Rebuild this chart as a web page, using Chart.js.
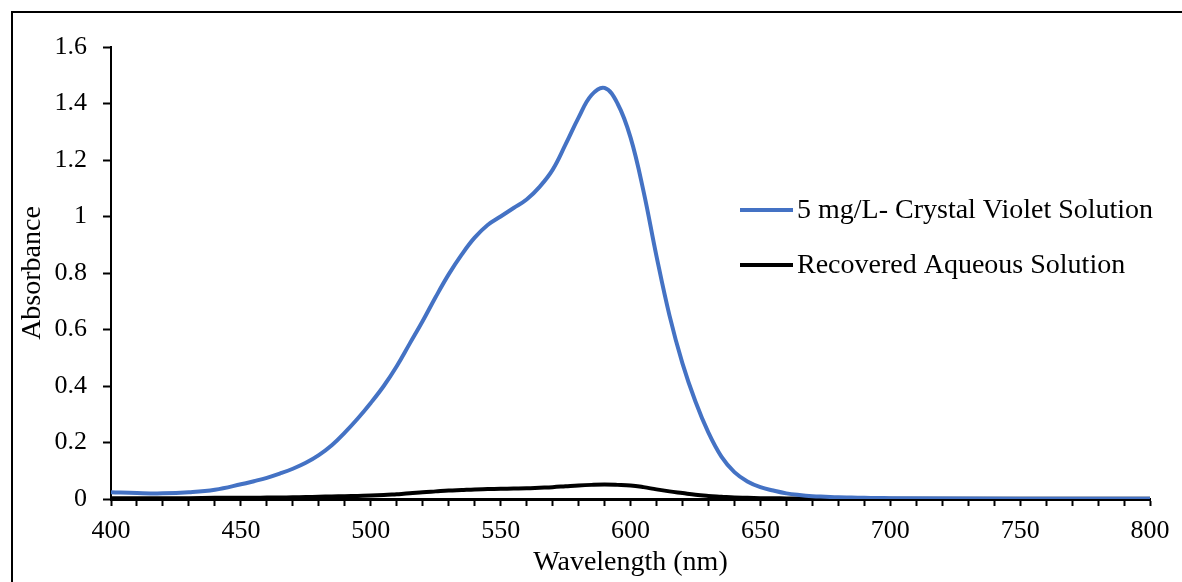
<!DOCTYPE html>
<html>
<head>
<meta charset="utf-8">
<script src="https://cdn.jsdelivr.net/npm/chart.js@4.4.1/dist/chart.umd.min.js"></script>
<style>
  html, body { margin: 0; padding: 0; background: #fff; overflow: hidden; }
  #wrap { position: relative; width: 1182px; height: 582px; }
  #frame { position: absolute; left: 11px; top: 11px; width: 3000px; height: 3000px;
           border-left: 2px solid #000; border-top: 2px solid #000; }
  canvas { position: absolute; left: 0; top: 0; }
</style>
</head>
<body>
<div id="wrap">
  <div id="frame"></div>
  <canvas id="grafico" width="1182" height="582"></canvas>
</div>
<script>
// comprimentos de onda (nm)
var wavelengths = [400, 410, 420, 430, 440,
  450, 455, 460, 465, 470, 475, 480, 485, 490, 495,
  500, 505, 510, 515, 520, 525, 530, 535, 540, 545,
  550, 555, 560, 565, 570, 575, 580, 585, 590, 595,
  600, 605, 610, 615, 620, 625, 630, 635, 640, 645,
  650, 655, 660, 665, 670, 675, 680, 685, 690, 695,
  700, 750, 800];
// 5 mg/L cristal violeta
var crystalViolet = [0.024, 0.021, 0.020, 0.024, 0.033,
  0.052, 0.063, 0.075, 0.09, 0.107, 0.128, 0.155, 0.19, 0.235, 0.285,
  0.34, 0.40, 0.47, 0.55, 0.63, 0.715, 0.795, 0.865, 0.925, 0.97,
  1.00, 1.03, 1.06, 1.105, 1.165, 1.255, 1.35, 1.43, 1.455, 1.40,
  1.28, 1.09, 0.86, 0.65, 0.48, 0.345, 0.235, 0.15, 0.095, 0.062,
  0.042, 0.03, 0.02, 0.014, 0.010, 0.008, 0.006, 0.005, 0.004, 0.0035,
  0.003, 0.001, 0.0005];
// solução aquosa recuperada
var recovered = [0.003, 0.003, 0.003, 0.003, 0.004,
  0.004, 0.0045, 0.005, 0.0055, 0.006, 0.007, 0.008, 0.009, 0.010, 0.011,
  0.012, 0.014, 0.017, 0.020, 0.024, 0.027, 0.030, 0.032, 0.034, 0.035,
  0.036, 0.037, 0.038, 0.040, 0.042, 0.045, 0.048, 0.050, 0.051, 0.050,
  0.048, 0.042, 0.034, 0.027, 0.021, 0.015, 0.011, 0.008, 0.005, 0.004,
  0.003, 0.0025, 0.002, 0.0018, 0.0015, 0.0013, 0.0012, 0.0011, 0.001, 0.001,
  0.001, 0.0005, 0.0005];
var seriesNames = ['5 mg/L- Crystal Violet Solution', 'Recovered Aqueous Solution'];
var seriesColors = ['#4472C4', '#000000'];
var xTitle = 'Wavelength (nm)';
var yTitle = 'Absorbance';

function pares(ys) {
  return wavelengths.map(function (w, i) { return { x: w, y: ys[i] }; });
}

var fonte = 'Liberation Serif';

// legenda desenhada dentro da área do gráfico
var legendaPlugin = {
  id: 'legenda',
  afterDraw: function (chart) {
    var ctx = chart.ctx;
    var x0 = 740, y0 = 210, gap = 55;
    ctx.save();
    chart.data.datasets.forEach(function (ds, i) {
      var y = y0 + i * gap;
      ctx.strokeStyle = ds.borderColor;
      ctx.lineWidth = 4;
      ctx.beginPath();
      ctx.moveTo(x0, y);
      ctx.lineTo(x0 + 53, y);
      ctx.stroke();
      ctx.fillStyle = '#000';
      ctx.font = '28px "' + fonte + '"';
      ctx.textBaseline = 'middle';
      ctx.fillText(ds.label, x0 + 57, y + 1);
    });
    ctx.restore();
  }
};

var ctx = document.getElementById('grafico').getContext('2d');
new Chart(ctx, {
  type: 'line',
  data: {
    datasets: [{
      label: seriesNames[0],
      data: pares(crystalViolet),
      borderColor: seriesColors[0],
      borderWidth: 4,
      pointRadius: 0,
      tension: 0.4,
      fill: false
    }, {
      label: seriesNames[1],
      data: pares(recovered),
      borderColor: seriesColors[1],
      borderWidth: 4,
      pointRadius: 0,
      tension: 0.4,
      fill: false
    }]
  },
  options: {
    responsive: false,
    animation: false,
    layout: { padding: { top: 47, right: 32, left: 0, bottom: 0 } },
    plugins: { legend: { display: false }, tooltip: { enabled: false } },
    scales: {
      x: {
        type: 'linear',
        min: 400,
        max: 800,
        afterFit: function (s) { s.height = 83; },
        grid: { drawOnChartArea: false, color: '#000', tickLength: 7, tickWidth: 2 },
        border: { color: '#000', width: 3 },
        ticks: {
          stepSize: 10,
          autoSkip: false,
          maxRotation: 0,
          padding: 10,
          color: '#000',
          font: { family: fonte, size: 26 },
          callback: function (v) { return v % 50 === 0 ? v : ''; }
        },
        title: { display: true, text: xTitle, color: '#000', font: { family: fonte, size: 28 }, padding: { top: 0, bottom: 3 } }
      },
      y: {
        min: 0,
        max: 1.6,
        afterFit: function (s) { s.width = 111; },
        grid: { drawOnChartArea: false, color: '#000', tickLength: 8, tickWidth: 2 },
        border: { color: '#000', width: 2 },
        ticks: {
          stepSize: 0.2,
          padding: 16,
          color: '#000',
          font: { family: fonte, size: 26 },
          callback: function (v) { return Math.round(v * 10) / 10; }
        },
        title: { display: true, text: yTitle, color: '#000', font: { family: fonte, size: 28 }, padding: { top: 16, bottom: 0 } }
      }
    }
  },
  plugins: [legendaPlugin]
});
</script>
</body>
</html>
